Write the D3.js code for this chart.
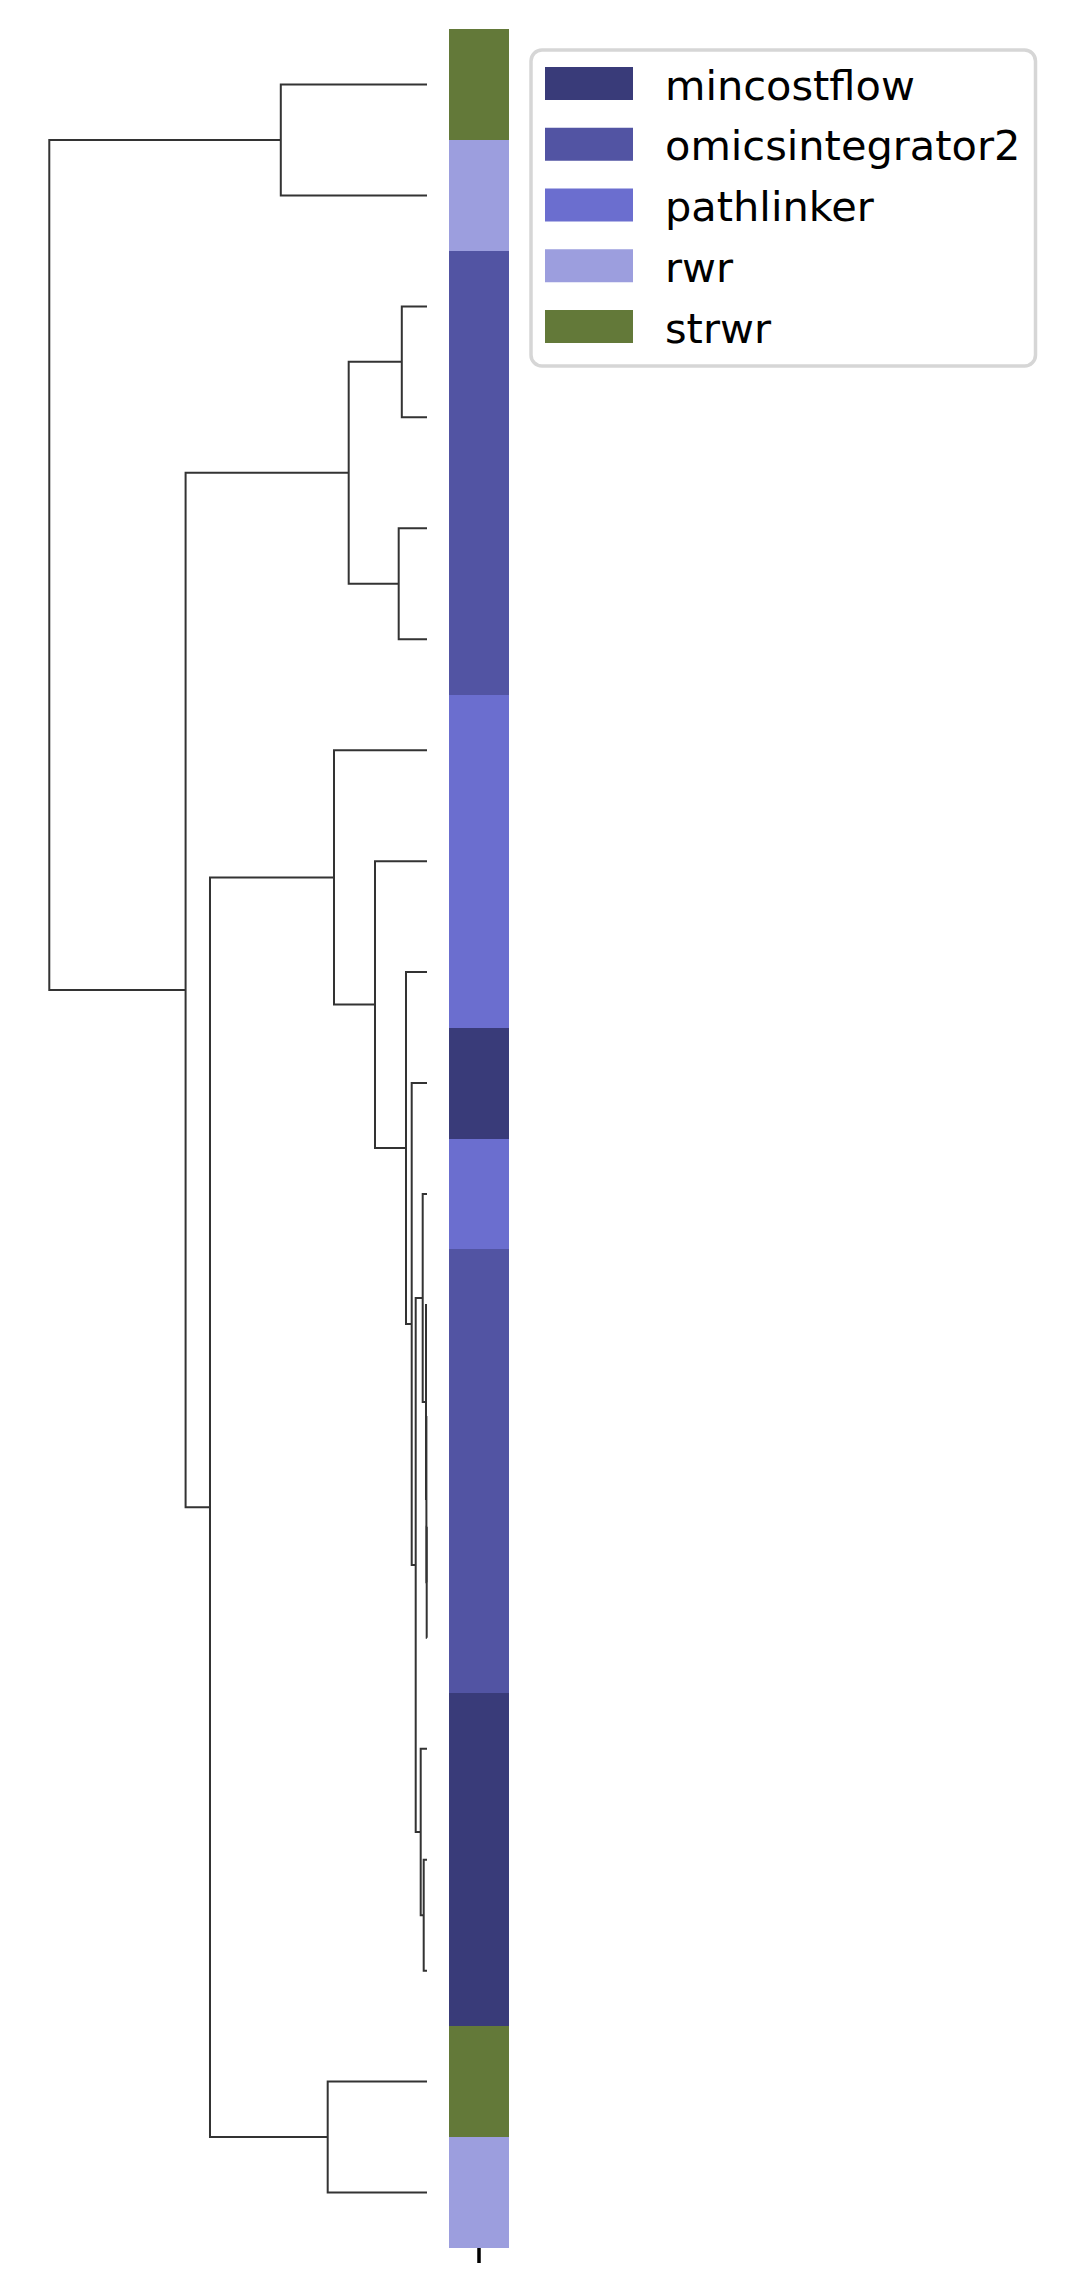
<!DOCTYPE html>
<html>
<head>
<meta charset="utf-8">
<script src="https://cdn.jsdelivr.net/npm/d3@7"></script>
<style>
  body { margin: 0; background: #fff; }
  svg { display: block; }
</style>
</head>
<body>
<svg></svg>
<script>
const svgWidth = 1066;
const svgHeight = 2278;

// row colours, top to bottom (leaf order of the dendrogram)
const leafMethods = [
    "strwr", "rwr",
    "omicsintegrator2", "omicsintegrator2", "omicsintegrator2", "omicsintegrator2",
    "pathlinker", "pathlinker", "pathlinker",
    "mincostflow",
    "pathlinker",
    "omicsintegrator2", "omicsintegrator2", "omicsintegrator2", "omicsintegrator2",
    "mincostflow", "mincostflow", "mincostflow",
    "strwr", "rwr"
];

const methods = ["mincostflow", "omicsintegrator2", "pathlinker", "rwr", "strwr"];
const methodColors = ["#393b79", "#5254a3", "#6b6ecf", "#9c9ede", "#637939"];

// linkage like scipy: [left id, right id, height]; leaves are 0..19, merges are 20..
const linkage = [
    [13, 14, 0.003],
    [12, 20, 0.006],
    [11, 21, 0.010],
    [16, 17, 0.033],
    [10, 22, 0.043],
    [15, 23, 0.063],
    [24, 25, 0.113],
    [9, 26, 0.153],
    [8, 27, 0.21],
    [2, 3, 0.252],
    [4, 5, 0.283],
    [7, 28, 0.52],
    [29, 30, 0.783],
    [6, 31, 0.93],
    [18, 19, 0.993],
    [0, 1, 1.462],
    [33, 34, 2.17],
    [32, 36, 2.414],
    [35, 37, 3.777]
];

const colTicks = [""];

const svg = d3.select("svg")
    .attr("width", svgWidth)
    .attr("height", svgHeight);

const nLeaves = leafMethods.length;

const y = d3.scaleBand()
    .domain(d3.range(nLeaves))
    .range([29, 2248]);

const maxH = d3.max(linkage, d => d[2]);
const x = d3.scaleLinear()
    .domain([0, maxH * 1.05])
    .range([427, 30.4]);

const color = d3.scaleOrdinal(methods, methodColors);

// build nested tree from the linkage, then walk it with d3.hierarchy
const nodes = {};
d3.range(nLeaves).forEach(i => { nodes[i] = { id: i, height: 0 }; });
linkage.forEach((l, k) => {
    nodes[nLeaves + k] = { id: nLeaves + k, height: l[2], children: [nodes[l[0]], nodes[l[1]]] };
});
const root = d3.hierarchy(nodes[nLeaves + linkage.length - 1]);

// leaf y at band centre, internal node y at the mean of its two children
root.eachAfter(n => {
    if (!n.children) {
        n.yPos = y(n.data.id) + y.bandwidth() / 2;
    } else {
        n.yPos = (n.children[0].yPos + n.children[1].yPos) / 2;
    }
});

const dendro = svg.append("g");
dendro.selectAll("path")
    .data(root.descendants().filter(n => n.children))
    .enter().append("path")
    .attr("d", n => {
        const [a, b] = n.children;
        return `M${x(a.data.height)},${a.yPos}H${x(n.data.height)}V${b.yPos}H${x(b.data.height)}`;
    })
    .attr("fill", "none")
    .attr("stroke", "#333333")
    .attr("stroke-width", 2);

// row colour strip
const colX = d3.scaleBand()
    .domain(colTicks)
    .range([449, 509]);

svg.append("g")
    .attr("shape-rendering", "crispEdges")
    .selectAll("rect")
    .data(leafMethods)
    .enter().append("rect")
    .attr("x", colX(""))
    .attr("y", (d, i) => y(i))
    .attr("width", colX.bandwidth())
    .attr("height", (d, i) => i < nLeaves - 1 ? y.bandwidth() + 1 : y.bandwidth())
    .attr("fill", d => color(d));

const xAxis = svg.append("g")
    .attr("transform", `translate(0,${y.range()[1]})`)
    .call(d3.axisBottom(colX).tickSize(15).tickSizeOuter(0).tickFormat(d => d));
xAxis.select(".domain").remove();
xAxis.selectAll(".tick line").attr("stroke", "#000").attr("stroke-width", 3.5);

// legend
const legend = svg.append("g");
legend.append("rect")
    .attr("x", 531)
    .attr("y", 50)
    .attr("width", 504.5)
    .attr("height", 316)
    .attr("rx", 11)
    .attr("fill", "#fff")
    .attr("stroke", "#d6d6d6")
    .attr("stroke-width", 3.5);

const legY = d3.scalePoint()
    .domain(methods)
    .range([83.5, 326.5]);

const items = legend.selectAll("g.item")
    .data(methods)
    .enter().append("g")
    .attr("class", "item")
    .attr("transform", d => `translate(0,${legY(d)})`);

items.append("rect")
    .attr("x", 545)
    .attr("y", -16.5)
    .attr("width", 88)
    .attr("height", 33)
    .attr("fill", d => color(d));

items.append("text")
    .attr("x", 665)
    .attr("y", 16)
    .attr("font-family", "DejaVu Sans")
    .attr("font-size", 41.5)
    .attr("fill", "#000")
    .text(d => d);
</script>
</body>
</html>
